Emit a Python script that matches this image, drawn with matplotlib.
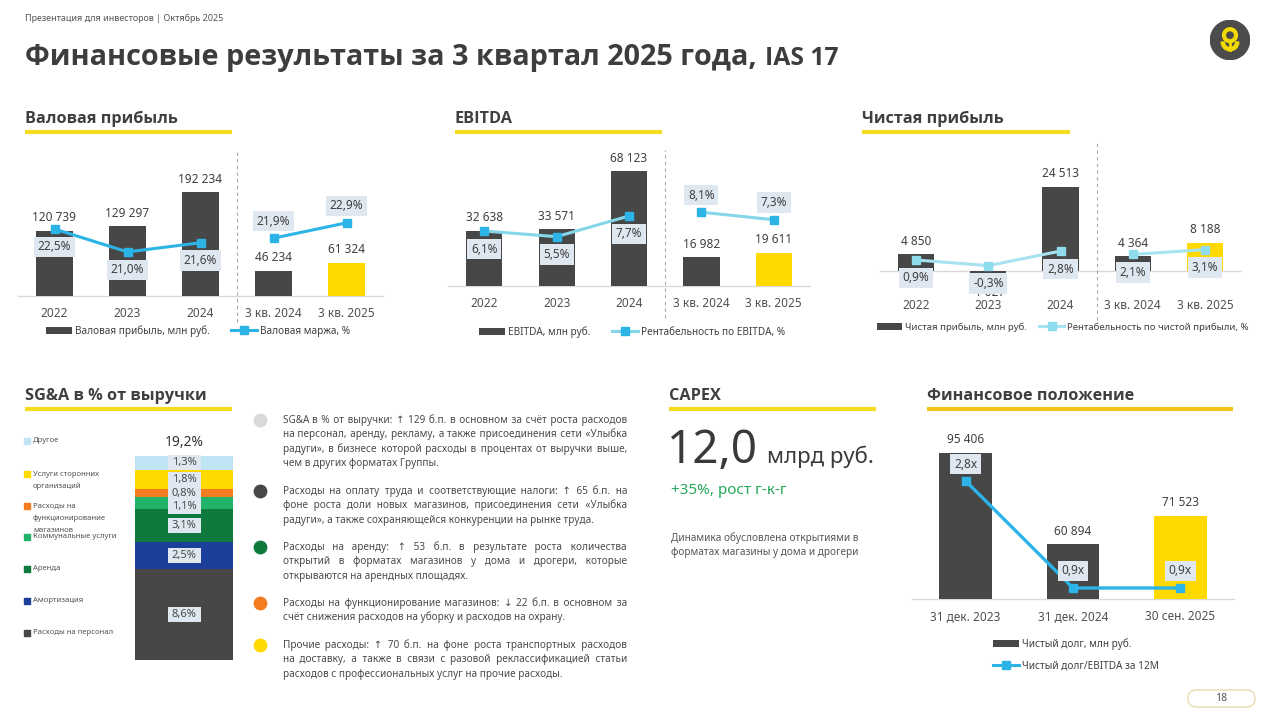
import numpy as np
import matplotlib
matplotlib.use('Agg')
import matplotlib.pyplot as plt
from matplotlib import font_manager as fm
from matplotlib.patches import Patch, Circle, FancyBboxPatch, Wedge, Rectangle
from matplotlib.lines import Line2D
from matplotlib.transforms import IdentityTransform

W, H = 1280, 724
DARK = '#474747'
TXT = '#3f3f3f'
YEL = '#ffd900'
LINE_YEL = '#f6dc1e'
BLUE = '#2cb4e6'
BOX = '#dfe7f1'

plt.rcParams['font.family'] = ['Noto Sans', 'DejaVu Sans']


def pick_bold(cands):
    for f in cands:
        for e in fm.fontManager.ttflist:
            w = e.weight if isinstance(e.weight, int) else fm.weight_dict.get(e.weight, 400)
            if e.name == f and w >= 600:
                return f
    return 'DejaVu Sans'


BOLD = [pick_bold(['Noto Sans', 'Open Sans', 'Lato', 'Inter', 'Roboto', 'Liberation Sans']), 'DejaVu Sans']

# ---- data ----
period_labels = ['2022', '2023', '2024', '3 кв. 2024', '3 кв. 2025']
gross_profit = [120739, 129297, 192234, 46234, 61324]
gross_margin = [22.5, 21.0, 21.6, 21.9, 22.9]
ebitda = [32638, 33571, 68123, 16982, 19611]
ebitda_margin = [6.1, 5.5, 7.7, 8.1, 7.3]
net_profit = [4850, -1027, 24513, 4364, 8188]
net_margin = [0.9, -0.3, 2.8, 2.1, 3.1]

sga_items = ['Расходы на персонал', 'Амортизация', 'Аренда', 'Коммунальные услуги',
             'Расходы на\nфункционирование\nмагазинов', 'Услуги сторонних\nорганизаций', 'Другое']
sga_values = [8.6, 2.5, 3.1, 1.1, 0.8, 1.8, 1.3]
sga_total = 19.2
sga_colors = ['#474747', '#1b3f9a', '#0f7a3d', '#22b36b', '#f47b20', '#ffd900', '#bfe5f5']

debt_labels = ['31 дек. 2023', '31 дек. 2024', '30 сен. 2025']
net_debt = [95406, 60894, 71523]
debt_ratio = [2.8, 0.9, 0.9]

capex_value = '12,0'
capex_growth = '+35%, рост г-к-г'

notes = [
    ['SG&A в % от выручки: ↑ 129 б.п. в основном за счёт роста расходов',
     'на персонал, аренду, рекламу, а также присоединения сети «Улыбка',
     'радуги», в бизнесе которой расходы в процентах от выручки выше,',
     'чем в других форматах Группы.'],
    ['Расходы на оплату труда и соответствующие налоги: ↑ 65 б.п. на',
     'фоне роста доли новых магазинов, присоединения сети «Улыбка',
     'радуги», а также сохраняющейся конкуренции на рынке труда.'],
    ['Расходы на аренду: ↑ 53 б.п. в результате роста количества',
     'открытий в форматах магазинов у дома и дрогери, которые',
     'открываются на арендных площадях.'],
    ['Расходы на функционирование магазинов: ↓ 22 б.п. в основном за',
     'счёт снижения расходов на уборку и расходов на охрану.'],
    ['Прочие расходы: ↑ 70 б.п. на фоне роста транспортных расходов',
     'на доставку, а также в связи с разовой реклассификацией статьи',
     'расходов с профессиональных услуг на прочие расходы.'],
]
note_colors = ['#d9d9d9', '#474747', '#0f7a3d', '#f47b20', '#ffd900']


def fmt_num(v):
    return f'{v:,}'.replace(',', ' ')


def fmt_pct(v, suffix='%'):
    return f'{v:.1f}{suffix}'.replace('.', ',')


fig = plt.figure(figsize=(W / 100, H / 100), dpi=100)
bg = fig.add_axes([0, 0, 1, 1])
bg.set_xlim(0, W)
bg.set_ylim(H, 0)
bg.axis('off')
renderer = fig.canvas.get_renderer()


def width_of(t):
    return t.get_window_extent(renderer).width


def fit(t, target):
    t.set_fontsize(t.get_fontsize() * target / width_of(t))


def px_axes(x0, y0, x1, y1):
    ax = fig.add_axes([x0 / W, 1 - y1 / H, (x1 - x0) / W, (y1 - y0) / H])
    ax.patch.set_alpha(0)
    return ax


def clean(ax):
    for s in ax.spines.values():
        s.set_visible(False)
    ax.set_yticks([])


# heading size from the first heading's width in the slide
_probe = bg.text(0, 0, 'Валовая прибыль', fontsize=12.5, family=BOLD, weight='bold')
fit(_probe, 153)
HEAD_FS = _probe.get_fontsize()
_probe.remove()


def heading(x, y, text, x1, line_y, color=LINE_YEL):
    bg.text(x, y, text, fontsize=HEAD_FS, family=BOLD, weight='bold', color=TXT, va='baseline')
    bg.plot([x, x1], [line_y, line_y], color=color, lw=3, solid_capstyle='butt')


def combo(rect, labels, values, pcts, ylim, y2lim, colors, line_color, marker_color,
          sides, segments, sep=None, suffix='%', pad=8, bar_w=0.5, lw=2.2):
    ax = px_axes(*rect)
    x = np.arange(len(values))
    ax.bar(x, values, width=bar_w, color=colors, zorder=2)
    ax.set_xlim(-0.5, len(values) - 0.5)
    ax.set_ylim(*ylim)
    clean(ax)
    ax.set_xticks(x, labels)
    ax.tick_params(axis='x', length=0, pad=pad, labelsize=8.5, labelcolor='#505050')
    ax.axhline(max(0, ylim[0]), color='#d9d9d9', lw=1, zorder=1, clip_on=False)
    for xi, v in zip(x, values):
        off = 13 if v >= 0 else -18
        ax.annotate(fmt_num(v), (xi, v), xytext=(0, off), textcoords='offset pixels',
                    ha='center', va='center', fontsize=8.5, color=TXT)
    ax2 = ax.twinx()
    ax2.set_ylim(*y2lim)
    clean(ax2)
    p = np.array(pcts)
    for a, b in segments:
        ax2.plot(x[a:b], p[a:b], color=line_color, lw=lw, marker='s', ms=6,
                 mfc=marker_color, mec=marker_color, zorder=3)
    for xi, v, side in zip(x, p, sides):
        off = 17 if side == 'up' else -18
        ax2.annotate(fmt_pct(v, suffix), (xi, v), xytext=(0, off), textcoords='offset pixels',
                     ha='center', va='center', fontsize=8.5, color=TXT, zorder=5,
                     bbox=dict(boxstyle='square,pad=0.32', fc=BOX, ec='none'))
    if sep is not None:
        y0, y1 = rect[1], rect[3]
        ymin = (y1 - sep[2]) / (y1 - y0)
        ymax = (y1 - sep[1]) / (y1 - y0)
        ax.axvline(sep[0], ymin=ymin, ymax=ymax, clip_on=False, color='#a8a8a8',
                   lw=0.8, ls=(0, (3, 3)))
    return ax, ax2


def legend(ax, labels, line_color, marker_color, center, ncol=2, loc='center', colsp=2.1,
           lw=2.2, fs=7.2):
    handles = [Patch(fc=DARK, ec='none'),
               Line2D([], [], color=line_color, lw=lw, marker='s', ms=6,
                      mfc=marker_color, mec=marker_color)]
    ax.legend(handles, labels, loc=loc, bbox_to_anchor=(center[0] / W, 1 - center[1] / H),
              bbox_transform=fig.transFigure, ncol=ncol, frameon=False, fontsize=fs,
              handlelength=2.6, handletextpad=0.3, columnspacing=colsp, labelcolor=TXT,
              borderpad=0, labelspacing=1.05)


# ---- header ----
bg.text(25, 18, 'Презентация для инвесторов | Октябрь 2025', fontsize=6.5, color='#555555', va='center')
t = bg.text(25, 65, 'Финансовые результаты за 3 квартал 2025 года,', fontsize=21,
            family=BOLD, weight='bold', color='#3d3d3d', va='baseline')
fit(t, 732)
ext = t.get_window_extent(renderer)
t2 = bg.text(ext.x1 + 8, 65, 'IAS 17', fontsize=14, family=BOLD, weight='bold',
             color='#3d3d3d', va='baseline')
fit(t2, 74)

# logo
lg = px_axes(1210, 20, 1250, 60)
lg.set_xlim(0, 1)
lg.set_ylim(0, 1)
lg.axis('off')
lg.add_patch(Circle((0.5, 0.5), 0.49, color='#4b4b4b'))
lg.add_patch(Circle((0.5, 0.62), 0.15, fill=False, ec='#f2d900', lw=3))
lg.add_patch(Wedge((0.5, 0.45), 0.22, 180, 360, width=0.08, color='#f2d900'))
lg.plot([0.5, 0.5], [0.24, 0.42], color='#f2d900', lw=2)

# ---- top panels ----
heading(25, 123, 'Валовая прибыль', 232, 132)
a1, b1 = combo((18, 150, 383, 296), period_labels, gross_profit, gross_margin,
               (0, 270000), (18.12, 27.66), [DARK] * 4 + [YEL], BLUE, BLUE,
               ['down', 'down', 'down', 'up', 'up'], [(0, 3), (3, 5)], sep=(2.5, 152, 322))
legend(a1, ['Валовая прибыль, млн руб.', 'Валовая маржа, %'], BLUE, BLUE, (198, 331))

heading(455, 123, 'EBITDA', 662, 132)
a2, b2 = combo((448, 150, 810, 286), period_labels, ebitda, ebitda_margin,
               (0, 80570), (0.25, 14.72), [DARK] * 4 + [YEL], '#86d6ea', BLUE,
               ['down', 'down', 'down', 'up', 'up'], [(0, 3), (3, 5)], sep=(2.5, 150, 318))
legend(a2, ['EBITDA, млн руб.', 'Рентабельность по EBITDA, %'], '#86d6ea', BLUE, (632, 332))

heading(862, 123, 'Чистая прибыль', 1070, 132)
a3, b3 = combo((880, 150, 1241, 296), period_labels, net_profit, net_margin,
               (-7289, 35277), (-6.76, 24.3), [DARK] * 4 + [YEL], '#a6e2ef', '#8fdcec',
               ['down'] * 5, [(0, 3), (3, 5)], sep=(2.5, 143, 320), pad=2)
legend(a3, ['Чистая прибыль, млн руб.', 'Рентабельность по чистой прибыли, %'],
       '#a6e2ef', '#8fdcec', (1063, 327), colsp=1.3, fs=6.9)

# ---- SG&A ----
heading(25, 400, 'SG&A в % от выручки', 232, 409)
sa = px_axes(135, 456, 233, 660)
sa.set_xlim(-0.5, 0.5)
sa.set_ylim(0, sga_total)
clean(sa)
sa.set_xticks([])
bottoms = np.concatenate([[0], np.cumsum(sga_values)[:-1]])
sa.bar(0, sga_values, bottom=bottoms, width=1, color=sga_colors)
sga_nudge = [0, 0, 0, -3, 0, 0, 0]
box_w = 33
for b, v, dy in zip(bottoms, sga_values, sga_nudge):
    lt = sa.annotate(fmt_pct(v), (0, b + v / 2), xytext=(0, dy), textcoords='offset pixels',
                     ha='center', va='center', fontsize=8, color='#4a4a4a', zorder=5)
    bb = lt.get_window_extent(renderer)
    cx = (bb.x0 + bb.x1) / 2
    sa.add_patch(Rectangle((cx - box_w / 2, bb.y0 - 2), box_w, bb.height + 4,
                           transform=IdentityTransform(), fc=BOX, ec='none',
                           zorder=4, clip_on=False))
sa.annotate(fmt_pct(sga_total), (0, sga_total), xytext=(0, 13), textcoords='offset pixels',
            ha='center', va='center', fontsize=10, color='#333333')

sga_legend_y = [633, 601, 569, 537, 506, 474, 441]
for name, c, y in zip(sga_items, sga_colors, sga_legend_y):
    bg.scatter([27], [y], marker='s', s=14, color=c)
    for i, line in enumerate(name.split('\n')):
        bg.text(33, y + 12 * i, line, fontsize=5.5, color='#555555', va='center')

# notes: justified by padding the spaces with hair spaces
note_y = [420, 491, 547, 603, 645]
NX0, NX1 = 283, 627
HAIR = '\u200a'
_probe = bg.text(0, 0, notes[0][0], fontsize=7)
fit(_probe, 334)
NOTE_FS = min(_probe.get_fontsize(), 8)
_probe.set_fontsize(NOTE_FS)
_probe.set_text('a' + HAIR * 40 + 'a')
_w40 = width_of(_probe)
_probe.set_text('aa')
HAIR_W = max((_w40 - width_of(_probe)) / 40, 0.3)
_probe.remove()


def justify_line(y, line, last):
    tt = bg.text(NX0, y, line, fontsize=NOTE_FS, color='#4a4a4a', va='center')
    words = line.split(' ')
    gaps = len(words) - 1
    if last or gaps < 1:
        return
    extra = NX1 - NX0 - width_of(tt)
    n = max(0, int(round(extra / HAIR_W)))
    parts = [words[0]]
    for i, w in enumerate(words[1:]):
        k = (n * (i + 1)) // gaps - (n * i) // gaps
        parts.append(' ' + HAIR * k + w)
    tt.set_text(''.join(parts))


for lines, c, y in zip(notes, note_colors, note_y):
    bg.scatter([260], [y], s=80, color=c)
    for i, line in enumerate(lines):
        justify_line(y + 14.5 * i, line, i == len(lines) - 1)

# ---- CAPEX ----
heading(669, 400, 'CAPEX', 876, 409)
bg.text(667, 463, capex_value, fontsize=33, color='#3a3a3a', va='baseline')
bg.text(767, 463, 'млрд руб.', fontsize=16, color='#3a3a3a', va='baseline')
bg.text(671, 490, capex_growth, fontsize=11, color='#27a85a', va='center')
bg.text(671, 538, 'Динамика обусловлена открытиями в', fontsize=7.2, color='#555555', va='center')
bg.text(671, 553, 'форматах магазины у дома и дрогери', fontsize=7.2, color='#555555', va='center')

# ---- financial position ----
heading(927, 400, 'Финансовое положение', 1233, 409, color='#f0c419')
a6, b6 = combo((912, 430, 1234, 599), debt_labels, net_debt, debt_ratio,
               (40040, 104128), (0.704, 3.706), [DARK, DARK, YEL], BLUE, BLUE,
               ['up', 'up', 'up'], [(0, 3)], suffix='x', bar_w=0.49, lw=2.4)
legend(a6, ['Чистый долг, млн руб.', 'Чистый долг/EBITDA за 12М'], BLUE, BLUE,
       (988, 633), ncol=1, loc='upper left')

# page number
pg = px_axes(1186, 689, 1257, 708)
pg.set_xlim(0, 71)
pg.set_ylim(0, 19)
pg.axis('off')
pg.add_patch(FancyBboxPatch((2, 1), 67, 17, boxstyle='round,pad=0,rounding_size=8.5',
                            fc='white', ec='#e6dcae', lw=1))
pg.text(35.5, 9.5, '18', ha='center', va='center', fontsize=7.5, color='#555555')

fig.savefig('out.png', dpi=100)
